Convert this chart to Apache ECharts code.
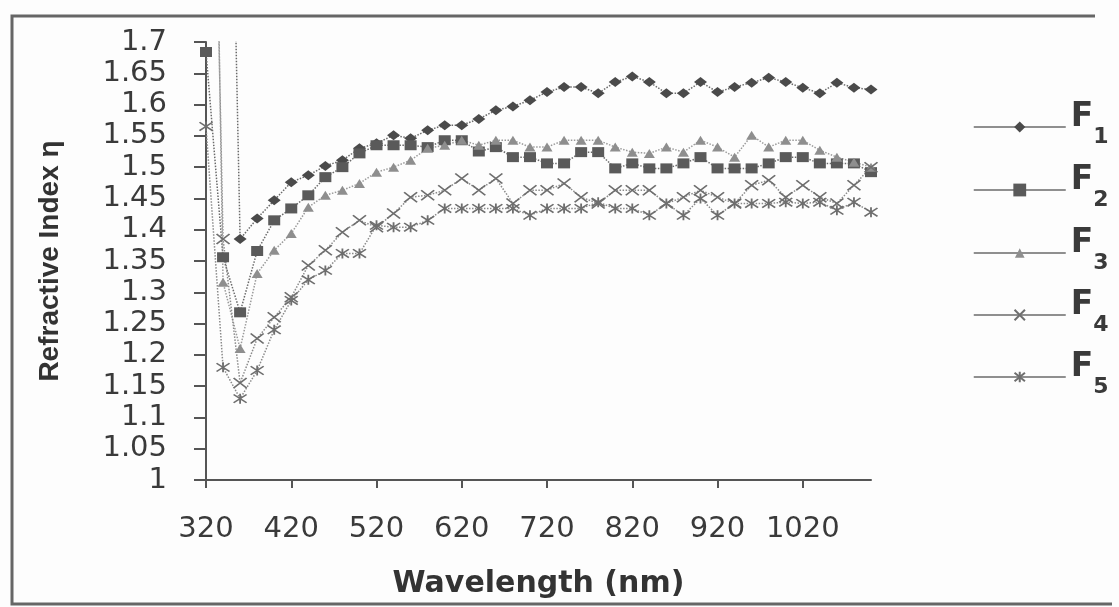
<!DOCTYPE html>
<html>
<head>
<meta charset="utf-8">
<script src="https://cdn.jsdelivr.net/npm/echarts@6/dist/echarts.min.js"></script>
<style>
html,body{margin:0;padding:0;background:#fdfdfd;}
#chart{width:1119px;height:607px;}
</style>
</head>
<body>
<div id="chart"></div>
<script>
// Wavelength categories (nm)
const wavelengths = [320,340,360,380,400,420,440,460,480,500,520,540,560,580,600,620,640,660,680,700,720,740,760,780,800,820,840,860,880,900,920,940,960,980,1000,1020,1040,1060,1080,1100];

// Refractive index values (values > 1.7 run off the top of the plot)
const F1 = [2.9,2.7,1.385,1.418,1.447,1.476,1.487,1.502,1.511,1.530,1.538,1.551,1.546,1.559,1.567,1.567,1.577,1.591,1.597,1.607,1.620,1.628,1.628,1.618,1.636,1.645,1.636,1.618,1.618,1.636,1.620,1.628,1.635,1.643,1.636,1.627,1.618,1.635,1.627,1.624];
const F2 = [1.684,1.356,1.268,1.366,1.415,1.434,1.455,1.484,1.500,1.522,1.535,1.535,1.535,1.532,1.543,1.543,1.525,1.532,1.516,1.516,1.506,1.506,1.524,1.524,1.498,1.506,1.498,1.498,1.506,1.516,1.498,1.498,1.498,1.506,1.516,1.516,1.506,1.506,1.506,1.492];
const F3 = [3.0,1.316,1.210,1.330,1.367,1.394,1.436,1.455,1.463,1.474,1.492,1.500,1.511,1.530,1.535,1.543,1.535,1.543,1.543,1.532,1.532,1.543,1.543,1.543,1.532,1.524,1.522,1.532,1.524,1.543,1.532,1.516,1.551,1.532,1.543,1.543,1.527,1.516,1.508,1.500];
const F4 = [2.7,1.385,1.155,1.226,1.260,1.292,1.343,1.367,1.396,1.415,1.404,1.426,1.452,1.455,1.463,1.482,1.463,1.482,1.442,1.463,1.463,1.474,1.452,1.442,1.463,1.463,1.463,1.442,1.452,1.463,1.452,1.442,1.471,1.479,1.452,1.471,1.452,1.442,1.471,1.500];
const F5 = [1.565,1.180,1.130,1.175,1.240,1.287,1.320,1.335,1.362,1.362,1.407,1.404,1.404,1.415,1.434,1.434,1.434,1.434,1.434,1.423,1.434,1.434,1.434,1.444,1.434,1.434,1.423,1.442,1.423,1.450,1.423,1.442,1.442,1.442,1.444,1.442,1.444,1.431,1.444,1.428];

const seriesNames = ['F1','F2','F3','F4','F5'];
const subscripts = ['1','2','3','4','5'];
const yTicks = {min: 1, max: 1.7, interval: 0.05};

const chart = echarts.init(document.getElementById('chart'), null, {renderer:'canvas'});

const markX = 'path://M0,0L10,10M10,0L0,10';
const markStar = 'path://M0,0L10,10M10,0L0,10M5,-1L5,11';

const styles = [
  {symbol:'diamond', size:[13,10], color:'#4a4a4a', line:'#6a6a6a', legendH:14},
  {symbol:'rect', size:[12,10], color:'#5a5a5a', line:'#6a6a6a', legendH:16},
  {symbol:'triangle', size:[11,9], color:'#8e8e8e', line:'#9a9a9a', legendH:12},
  {symbol:markX, size:[13,10], color:'#6e6e6e', line:'#8a8a8a', legendH:13, stroke:true},
  {symbol:markStar, size:[13,10], color:'#6e6e6e', line:'#8a8a8a', legendH:13, stroke:true}
];
const dataSets = [F1,F2,F3,F4,F5];

const series = seriesNames.map((n,i)=>{
  const s = styles[i];
  return {
    name:n, type:'line', data:dataSets[i],
    symbol:s.symbol, symbolSize:s.size, showAllSymbol:true, clip:true,
    itemStyle: s.stroke ? {color:s.color, borderColor:s.color, borderWidth:1.6} : {color:s.color},
    lineStyle:{color:s.line, width:1.5, type:'dotted'},
    emphasis:{disabled:true}, animation:false
  };
});

const legendCenters = [127,190,253,315,377];
const legends = seriesNames.map((n,i)=>({
  data:[n], left:973, top:legendCenters[i]-26.5, orient:'vertical', padding:0,
  itemWidth:92, itemHeight:styles[i].legendH, selectedMode:false,
  lineStyle:{type:'solid', width:1.5, color:'#6a6a6a'},
  formatter: function(){ return '{f|F}{s|' + subscripts[i] + '}'; },
  textStyle:{
    color:'#3a3a3a',
    rich:{
      f:{fontFamily:'DejaVu Sans', fontWeight:'bold', fontSize:33, verticalAlign:'top', color:'#3a3a3a'},
      s:{fontFamily:'DejaVu Sans', fontWeight:'bold', fontSize:22, padding:[26,0,5,0], verticalAlign:'bottom', color:'#3a3a3a'}
    }
  }
}));

chart.setOption({
  backgroundColor:'#fdfdfd',
  animation:false,
  grid:{left:206, top:42, width:665, height:438, containLabel:false},
  legend:legends,
  xAxis:{
    type:'category', data:wavelengths, boundaryGap:false,
    name:'Wavelength (nm)', nameLocation:'middle', nameGap:89,
    nameTextStyle:{fontFamily:'DejaVu Sans', fontWeight:'bold', fontSize:30, color:'#333'},
    axisLine:{lineStyle:{color:'#555', width:2}},
    axisTick:{interval:4, length:8, lineStyle:{color:'#555', width:2}},
    axisLabel:{interval:4, margin:35, fontFamily:'DejaVu Sans', fontSize:29, color:'#3a3a3a'},
    splitLine:{show:false}
  },
  yAxis:{
    type:'value', min:yTicks.min, max:yTicks.max, interval:yTicks.interval,
    name:'Refractive Index η', nameLocation:'middle', nameGap:142,
    nameTextStyle:{fontFamily:'Liberation Sans', fontWeight:'bold', fontSize:28, color:'#333'},
    axisLine:{show:true, lineStyle:{color:'#555', width:2}},
    axisTick:{show:true, length:12, lineStyle:{color:'#555', width:2}},
    axisLabel:{margin:39, fontFamily:'DejaVu Sans', fontSize:29, color:'#3a3a3a'},
    splitLine:{show:false}
  },
  graphic:[{
    type:'polyline', silent:true,
    shape:{points:[[1095,16],[12,16],[12,604],[1112,604]]},
    style:{stroke:'#666', lineWidth:3, fill:null}
  }],
  series:series
});
</script>
</body>
</html>
